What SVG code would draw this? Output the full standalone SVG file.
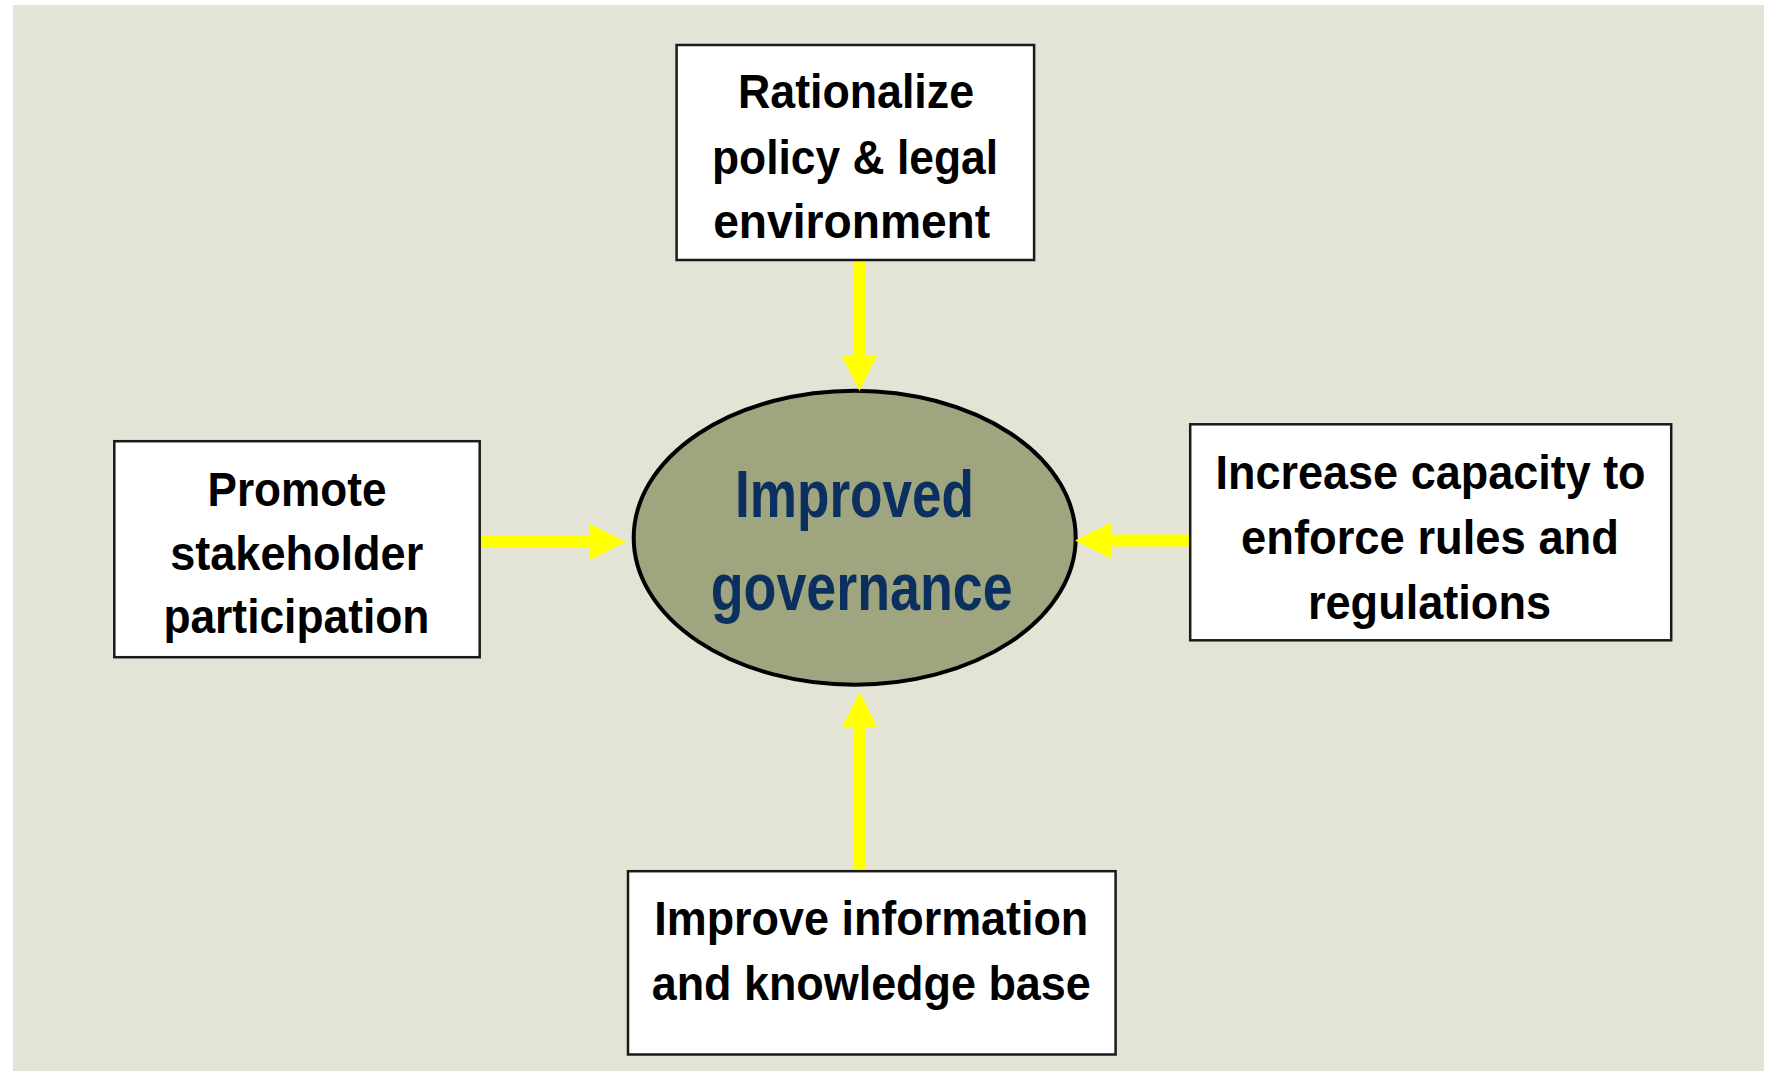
<svg xmlns="http://www.w3.org/2000/svg" width="1774" height="1071" viewBox="0 0 1774 1071">
  <style>
    .box { fill: #ffffff; stroke: #1a1a1a; stroke-width: 2.5; }
    .lbl { font-family: "Liberation Sans", Arial, sans-serif; font-weight: bold; font-size: 48px; fill: #000000; text-anchor: middle; }
    .core { font-family: "Liberation Sans", Arial, sans-serif; font-weight: bold; font-size: 66px; fill: #0b2f5e; text-anchor: middle; }
    .conn { stroke: #ffff00; stroke-width: 12; fill: none; marker-end: url(#head); }
  </style>
  <defs>
    <marker id="head" markerUnits="userSpaceOnUse" markerWidth="36" markerHeight="36" refX="0" refY="18" orient="auto" viewBox="0 0 36 36">
      <path d="M0,0 L36,18 L0,36 Z" fill="#ffff00"/>
    </marker>
  </defs>
  <rect x="0" y="0" width="1774" height="1071" fill="#ffffff"/>
  <rect x="13" y="5" width="1751" height="1066" fill="#e3e4d5"/>

  <g id="center">
    <ellipse cx="854.7" cy="537.7" rx="221" ry="147" fill="#9ea57f" stroke="#000000" stroke-width="4"/>
    <text class="core" x="854.5" y="516.7" textLength="239" lengthAdjust="spacingAndGlyphs">Improved</text>
    <text class="core" x="861.7" y="609.5" textLength="302" lengthAdjust="spacingAndGlyphs">governance</text>
  </g>

  <g id="connectors">
    <line class="conn" x1="859.5" y1="260" x2="859.5" y2="355"/>
    <line class="conn" x1="480" y1="542" x2="590" y2="542"/>
    <line class="conn" x1="1190" y1="540.5" x2="1111" y2="540.5"/>
    <line class="conn" x1="859.6" y1="871" x2="859.6" y2="728"/>
  </g>

  <g id="policy">
    <rect class="box" x="676.6" y="45" width="357.5" height="215"/>
    <text class="lbl" x="856" y="108.3" textLength="236" lengthAdjust="spacingAndGlyphs">Rationalize</text>
    <text class="lbl" x="855" y="173.5" textLength="286" lengthAdjust="spacingAndGlyphs">policy &amp; legal</text>
    <text class="lbl" x="851.7" y="237.5" textLength="277" lengthAdjust="spacingAndGlyphs">environment</text>
  </g>

  <g id="stakeholder">
    <rect class="box" x="114.3" y="441.2" width="365.4" height="216"/>
    <text class="lbl" x="297" y="505.5" textLength="179" lengthAdjust="spacingAndGlyphs">Promote</text>
    <text class="lbl" x="296.7" y="569.5" textLength="253" lengthAdjust="spacingAndGlyphs">stakeholder</text>
    <text class="lbl" x="296.4" y="633" textLength="266" lengthAdjust="spacingAndGlyphs">participation</text>
  </g>

  <g id="enforce">
    <rect class="box" x="1190.2" y="424.3" width="481" height="216"/>
    <text class="lbl" x="1430.6" y="489" textLength="430" lengthAdjust="spacingAndGlyphs">Increase capacity to</text>
    <text class="lbl" x="1430" y="554" textLength="378" lengthAdjust="spacingAndGlyphs">enforce rules and</text>
    <text class="lbl" x="1429.5" y="619" textLength="243" lengthAdjust="spacingAndGlyphs">regulations</text>
  </g>

  <g id="information">
    <rect class="box" x="628" y="871.2" width="487.6" height="183.3"/>
    <text class="lbl" x="871.3" y="935" textLength="434" lengthAdjust="spacingAndGlyphs">Improve information</text>
    <text class="lbl" x="871.2" y="1000" textLength="439" lengthAdjust="spacingAndGlyphs">and knowledge base</text>
  </g>
</svg>
